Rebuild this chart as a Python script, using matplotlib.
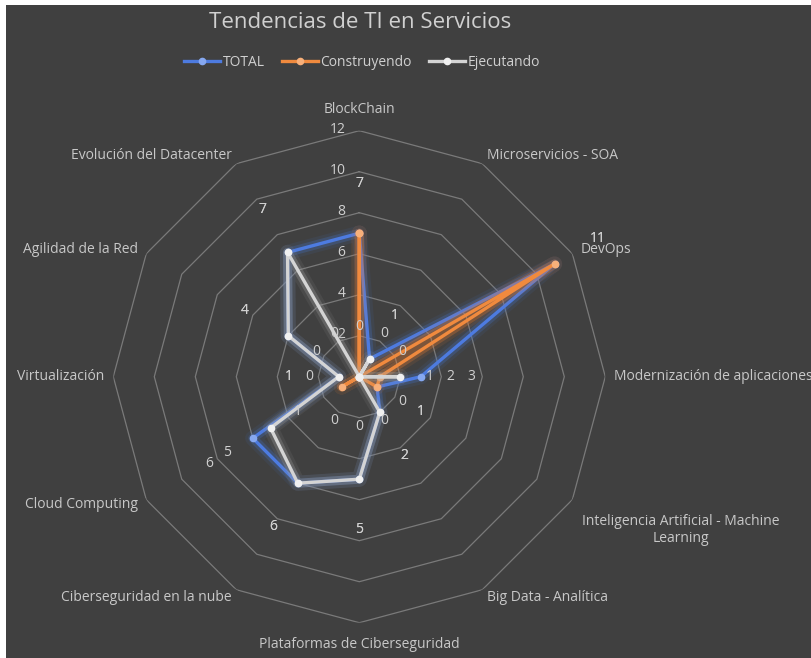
import numpy as np
import matplotlib
matplotlib.use("Agg")
import matplotlib.pyplot as plt
from matplotlib.patches import Rectangle

# ---------------- data ----------------
categories = [
    "BlockChain",
    "Microservicios - SOA",
    "DevOps",
    "Modernización de aplicaciones",
    "Inteligencia Artificial - Machine\nLearning",
    "Big Data - Analítica",
    "Plataformas de Ciberseguridad",
    "Ciberseguridad en la nube",
    "Cloud Computing",
    "Virtualización",
    "Agilidad de la Red",
    "Evolución del Datacenter",
]
series_names = ["TOTAL", "Construyendo", "Ejecutando"]
total = [7, 1, 11, 3, 1, 2, 5, 6, 6, 1, 4, 7]
construyendo = [7, 0, 11, 1, 1, 0, 0, 0, 1, 0, 0, 0]
ejecutando = [0, 1, 0, 2, 0, 2, 5, 6, 5, 1, 4, 7]
r_ticks = [2, 4, 6, 8, 10, 12]
title = "Tendencias de TI en Servicios"

# ---------------- style ----------------
BG = "#404040"
GRID = "#7a7a7a"
TXT = "#d0d0d0"
LBL = "#c8c8c8"
colors = ["#4472C4", "#ED7D31", "#A5A5A5"]
line_colors = ["#4d7be0", "#f08a3e", "#d4d4d4"]
marker_colors = ["#86a8f0", "#f8b07a", "#f0f0f0"]
FONT = "Open Sans"
plt.rcParams["font.family"] = [FONT, "DejaVu Sans"]

W, H, DPI = 812, 658, 100
fig = plt.figure(figsize=(W / DPI, H / DPI), dpi=DPI, facecolor="white")
fig.patches.append(Rectangle((6 / W, 0), 1 - 6 / W, 1 - 5 / H,
                             transform=fig.transFigure, facecolor=BG,
                             edgecolor="none", zorder=-10))

cx, cy, R = 359.3, 376.7, 246.0
ax = fig.add_axes([(cx - R) / W, (H - cy - R) / H, 2 * R / W, 2 * R / H],
                  projection="polar")
ax.set_theta_zero_location("N")
ax.set_theta_direction(-1)
ax.set_ylim(0, max(r_ticks))
ax.patch.set_alpha(0)
ax.grid(False)
ax.spines["polar"].set_visible(False)
ax.set_xticks([])
ax.set_yticks([])

n = len(categories)
theta = np.arange(n) * 2 * np.pi / n
theta_c = np.append(theta, theta[0])

# polygon grid
for r in r_ticks:
    ax.plot(theta_c, [r] * (n + 1), color=GRID, lw=0.9, zorder=1)
    ax.annotate(str(r), xy=(0, r), xytext=(-14, 1), textcoords="offset pixels",
                ha="right", va="center", color=TXT, fontsize=10, zorder=2,
                annotation_clip=False)

# series
handles = []
for i, (name, vals) in enumerate(zip(series_names, [total, construyendo, ejecutando])):
    v = np.append(vals, vals[0])
    z = 3 + i * 3
    ax.plot(theta_c, v, color=colors[i], lw=11, alpha=0.10, zorder=z,
            solid_joinstyle="round", solid_capstyle="round")
    ax.plot(theta_c, v, color=colors[i], lw=6.5, alpha=0.28, zorder=z,
            solid_joinstyle="round", solid_capstyle="round")
    h, = ax.plot(theta_c, v, color=line_colors[i], lw=2.4, zorder=z + 1,
                 marker="o", ms=4.5, mfc=marker_colors[i], mec=marker_colors[i],
                 solid_joinstyle="round", label=name)
    handles.append(h)
    # data labels placed radially beyond the points
    for t, val in zip(theta, vals):
        ax.text(t, val + 2.44, str(val), ha="center", va="center",
                color=TXT, fontsize=10, zorder=20)

# category labels
for t, lab in zip(theta, categories):
    s, c = np.sin(t), np.cos(t)
    dist = 9
    if abs(s) < 0.1:
        ha = "center"
        va = "bottom" if c > 0 else "top"
        dist = 14
    else:
        ha = "left" if s > 0 else "right"
        va = "center"
    dx, dy = dist * s, dist * c
    if "\n" in lab:
        va = "top"
        dx, dy = 10, -14
    ax.annotate(lab, xy=(t, max(r_ticks)), xytext=(dx, dy),
                textcoords="offset pixels", ha=ha, va=va, color=LBL,
                fontsize=10, multialignment="center", annotation_clip=False)

fig.text(360 / W, 1 - 22 / H, title, ha="center", va="center",
         color=TXT, fontsize=16)

leg = fig.legend(handles=handles, loc="center", bbox_to_anchor=(362 / W, 1 - 62 / H),
                 ncol=3, frameon=False, fontsize=10, handlelength=2.6,
                 handletextpad=0.2, columnspacing=1.2, numpoints=1)
for t in leg.get_texts():
    t.set_color(TXT)

fig.savefig("out.png", dpi=DPI, facecolor=fig.get_facecolor())
